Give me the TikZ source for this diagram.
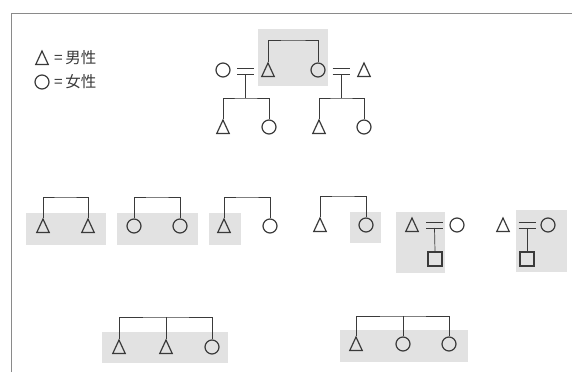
\documentclass[tikz,border=0pt]{standalone}
\usepackage{fontspec}
\newfontfamily\cjk{Noto Sans CJK JP}
\usetikzlibrary{shapes.geometric}
\definecolor{ink}{HTML}{3A3A3A}
\definecolor{shade}{HTML}{E2E2E2}
\definecolor{framec}{HTML}{8A8A8A}
\tikzset{
  male/.style={draw=ink, line width=1.2pt, regular polygon, regular polygon sides=3, minimum size=18pt, inner sep=0pt, xscale=0.8, transform shape},
  female/.style={draw=ink, line width=1.2pt, circle, minimum size=14pt, inner sep=0pt},
  child/.style={draw=ink, line width=1.2pt, rectangle, minimum size=14pt, inner sep=0pt},
  link/.style={draw=ink, line width=0.7pt},
  shadebox/.style={fill=shade, draw=none},
  legendtext/.style={text=ink, inner sep=0pt, anchor=west, font=\cjk\fontsize{15.5}{18}\selectfont}
}
\begin{document}
\begin{tikzpicture}[x=1pt,y=-1pt]
\useasboundingbox (0,0) rectangle (572,372);
% frame
\draw[framec, line width=0.6pt] (11,372) -- (11,13) -- (572,13);
% shaded boxes
\fill[shadebox] (258,29) rectangle (328,86);
\fill[shadebox] (26,213) rectangle (106,245);
\fill[shadebox] (117,213) rectangle (198,245);
\fill[shadebox] (209,213) rectangle (241,245);
\fill[shadebox] (350,212) rectangle (381,243);
\fill[shadebox] (396,212) rectangle (445,273);
\fill[shadebox] (516,210) rectangle (567,272);
\fill[shadebox] (102,332) rectangle (228,363);
\fill[shadebox] (340,330) rectangle (468,362);

% legend
\node[male] (lgm) at (42,60) {};
\node[female] (lgf) at (42,82) {};
\node[legendtext] (lgmt) at (54,57.5) {=\,男性};
\node[legendtext] (lgft) at (54,81.5) {=\,女性};

% ---- top family
\node[female] (c1) at (223,70) {};
\node[male] (t1) at (268,72) {};
\node[female] (o1) at (318,70) {};
\node[male] (t2) at (364,72) {};
\node[male] (k1) at (223,129) {};
\node[female] (k2) at (269,127) {};
\node[male] (k3) at (319,129) {};
\node[female] (k4) at (364,127) {};
\coordinate (s1) at (293,40);
\draw[link] (t1.north) |- (s1) -| (o1.north);
\coordinate (m1) at (245.5,71);
\coordinate (b1) at (245.5,98);
\draw[link] ([shift={(-8.5,-3)}]m1) -- ++(17,0);
\draw[link] ([shift={(-8.5,3)}]m1) -- ++(17,0);
\draw[link] ([shift={(0,3)}]m1) -- (b1);
\draw[link] (k1.north) |- (b1) -| (k2.north);
\coordinate (m2) at (341,71);
\coordinate (b2) at (341,98);
\draw[link] ([shift={(-8.5,-3)}]m2) -- ++(17,0);
\draw[link] ([shift={(-8.5,3)}]m2) -- ++(17,0);
\draw[link] ([shift={(0,3)}]m2) -- (b2);
\draw[link] (k3.north) |- (b2) -| (k4.north);

% ---- middle row
\node[male] (g1a) at (43,228) {};
\node[male] (g1b) at (88,228) {};
\coordinate (s2) at (65,197);
\draw[link] (g1a.north) |- (s2) -| (g1b.north);

\node[female] (g2a) at (134,226) {};
\node[female] (g2b) at (180,226) {};
\coordinate (s3) at (157,197);
\draw[link] (g2a.north) |- (s3) -| (g2b.north);

\node[male] (g3a) at (224,228) {};
\node[female] (g3b) at (270,226) {};
\coordinate (s4) at (247,197);
\draw[link] (g3a.north) |- (s4) -| (g3b.north);

\node[male] (g4a) at (320,227) {};
\node[female] (g4b) at (366,225) {};
\coordinate (s5) at (343,196);
\draw[link] (g4a.north) |- (s5) -| (g4b.north);

\node[male] (g5a) at (412,227) {};
\node[female] (g5b) at (457,225) {};
\node[child] (g5c) at (435,259) {};
\coordinate (m5) at (434.5,225);
\draw[link] ([shift={(-8.5,-3)}]m5) -- ++(17,0);
\draw[link] ([shift={(-8.5,3)}]m5) -- ++(17,0);
\draw[link] ([shift={(0,3)}]m5) -- (g5c.north);

\node[male] (g6a) at (503,227) {};
\node[female] (g6b) at (548,225) {};
\node[child] (g6c) at (527,259) {};
\coordinate (m6) at (527,225);
\draw[link] ([shift={(-8.5,-3)}]m6) -- ++(17,0);
\draw[link] ([shift={(-8.5,3)}]m6) -- ++(17,0);
\draw[link] ([shift={(0,3)}]m6) -- (g6c.north);

% ---- bottom row
\node[male] (h1a) at (119,349) {};
\node[male] (h1b) at (166,349) {};
\node[female] (h1c) at (212,347) {};
\coordinate (s6) at (166,317);
\draw[link] (h1a.north) |- (s6) -| (h1c.north);
\draw[link] (h1b.north) -- (s6);

\node[male] (h2a) at (356,346) {};
\node[female] (h2b) at (403,344) {};
\node[female] (h2c) at (449,344) {};
\coordinate (s7) at (403,316);
\draw[link] (h2a.north) |- (s7) -| (h2c.north);
\draw[link] (h2b.north) -- (s7);
\end{tikzpicture}
\end{document}
